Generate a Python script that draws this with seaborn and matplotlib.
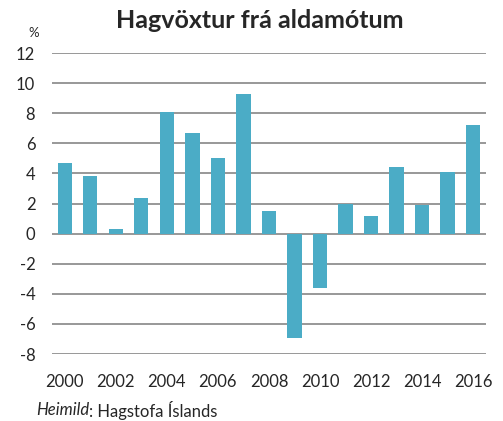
import pandas as pd
import matplotlib.pyplot as plt
import seaborn as sns

years = [str(y) for y in range(2000, 2017)]
growth = [4.7, 3.8, 0.3, 2.4, 8.1, 6.7, 5.0, 9.3, 1.5, -6.9, -3.6, 2.0, 1.2, 4.4, 1.9, 4.1, 7.2]
yticks = list(range(-8, 13, 2))

df = pd.DataFrame({"year": years, "growth": growth})

sns.set_style("white")
plt.rcParams['font.family'] = ['Lato', 'DejaVu Sans']

fig = plt.figure(figsize=(5.03, 4.21), dpi=100)
ax = fig.add_axes([0.1034, 0.159, 0.8626, 0.715])

sns.barplot(data=df, x="year", y="growth", color="#4BACC6", saturation=1,
            width=0.56, linewidth=0, ax=ax, zorder=3)

ax.set_ylim(-8, 12)
ax.set_xlim(-0.5, len(years) - 0.5)
ax.set_yticks(yticks)
ax.set_yticklabels([str(t) for t in yticks], fontsize=12)
ax.set_xticks(range(0, len(years), 2))
ax.set_xticklabels(years[::2], fontsize=12)
ax.tick_params(axis='x', length=0, pad=14)
ax.tick_params(axis='y', length=0, pad=12)
ax.yaxis.grid(True, color="#868686", linewidth=1.2, zorder=0)
ax.set_axisbelow(True)
for s in ax.spines.values():
    s.set_visible(False)
ax.set_xlabel("")
ax.set_ylabel("")

fig.text(0.516, 0.952, "Hagvöxtur frá aldamótum", ha="center", va="center",
         fontsize=18, fontweight="bold")
fig.text(0.066, 0.921, "%", ha="center", va="center", fontsize=9.5)

# source line: italic word + normal rest
t1 = fig.text(0.072, 0.026, "Heimild", ha="left", va="center", fontsize=12, style="italic")
fig.canvas.draw()
bb = t1.get_window_extent().transformed(fig.transFigure.inverted())
fig.text(bb.x1, 0.026, ": Hagstofa Íslands", ha="left", va="center", fontsize=12)

fig.savefig("out.png", dpi=100)
